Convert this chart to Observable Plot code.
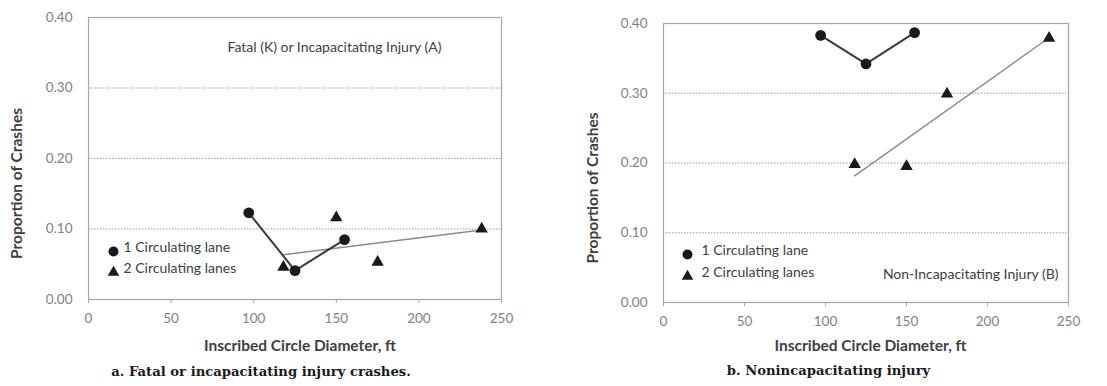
<!DOCTYPE html>
<html><head><meta charset="utf-8">
<script src="https://cdn.jsdelivr.net/npm/d3@7"></script>
<script src="https://cdn.jsdelivr.net/npm/@observablehq/plot@0.6"></script>
<style>
html,body{margin:0;padding:0;background:#fff;}
#wrap{position:relative;width:1107px;height:386px;overflow:hidden;}
#wrap > div, #wrap > svg{position:absolute;top:0;}
</style></head>
<body><div id="wrap"></div>
<script>
// ---- data ----
const diamOneLane = [97, 125, 155];
const diamTwoLanes = [118, 150, 175, 238];
const kaOneLane = [0.123, 0.041, 0.085];
const kaTwoLanes = [0.046, 0.116, 0.053, 0.100];
const bOneLane = [0.383, 0.342, 0.387];
const bTwoLanes = [0.198, 0.195, 0.299, 0.379];
const xTicks = [0, 50, 100, 150, 200, 250];
const yTicks = [0, 0.1, 0.2, 0.3, 0.4];
const gridTicks = [0.1, 0.2, 0.3];
const legendLabels = ["1 Circulating lane", "2 Circulating lanes"];
const panelNotes = ["Fatal (K) or Incapacitating Injury (A)", "Non-Incapacitating Injury (B)"];
const captions = ["a. Fatal or incapacitating injury crashes.", "b. Nonincapacitating injury"];
const xTitle = "Inscribed Circle Diameter, ft";
const yTitle = "Proportion of Crashes";

const sans = "Lato, 'Open Sans', sans-serif";
const tickColor = "#7f7f7f";
const darkText = "#404040";

function panel(opts) {
  const one = diamOneLane.map((d, i) => ({x: d, y: opts.one[i]}));
  const two = diamTwoLanes.map((d, i) => ({x: d, y: opts.two[i]}));
  const m = opts.m;
  return Plot.plot({
    width: opts.width, height: 386,
    marginLeft: m.l, marginRight: m.r, marginTop: m.t, marginBottom: m.b,
    style: {fontFamily: sans, background: "transparent", overflow: "visible"},
    x: {domain: [0, 250]},
    y: {domain: [0, 0.4]},
    marks: [
      Plot.ruleY(gridTicks, {stroke: "#9a9a9a", strokeDasharray: "1.5,1.5", strokeWidth: 1}),
      Plot.frame({stroke: "#a6a6a6", strokeWidth: 1.2}),
      Plot.axisX({ticks: xTicks, tickSize: 4, tickPadding: 10, tickFormat: d3.format("d"), label: null,
        color: tickColor, fontSize: 13.5, stroke: "#a6a6a6"}),
      Plot.axisY({ticks: yTicks, tickSize: 0, tickPadding: 16, tickFormat: d3.format(".2f"), label: null,
        color: tickColor, fontSize: 13.5}),
      Plot.linearRegressionY(two, {x: "x", y: "y", ci: 0, stroke: "#8c8c8c", strokeWidth: 1.4}),
      Plot.line(one, {x: "x", y: "y", stroke: "#3a3a3a", strokeWidth: 2}),
      Plot.dot(one, {x: "x", y: "y", r: 5.4, fill: "#1a1a1a", symbol: "circle"}),
      Plot.dot(two, {x: "x", y: "y", r: 4.6, fill: "#1a1a1a", symbol: "triangle"}),
      // legend
      Plot.dot([legendLabels[0]], {frameAnchor: "bottom-left", dx: opts.leg.dx, dy: opts.leg.dy1, r: 5, fill: "#1a1a1a", symbol: "circle"}),
      Plot.dot([legendLabels[1]], {frameAnchor: "bottom-left", dx: opts.leg.dx, dy: opts.leg.dy2, r: 4.3, fill: "#1a1a1a", symbol: "triangle"}),
      Plot.text([legendLabels[0]], {frameAnchor: "bottom-left", dx: opts.leg.tx, dy: opts.leg.dy1, text: d => d, textAnchor: "start", fontSize: 14, fill: darkText}),
      Plot.text([legendLabels[1]], {frameAnchor: "bottom-left", dx: opts.leg.tx, dy: opts.leg.dy2, text: d => d, textAnchor: "start", fontSize: 14, fill: darkText}),
      // panel note
      Plot.text([opts.note], {frameAnchor: opts.noteAnchor, dx: opts.noteDx, dy: opts.noteDy, text: d => d,
        textAnchor: opts.noteTA, fontSize: 14, fill: darkText}),
      // axis titles
      Plot.text([xTitle], {frameAnchor: "bottom", dx: opts.xt.dx, dy: opts.xt.dy, text: d => d, textAnchor: "middle", fontSize: 15.5, fontWeight: "bold", fill: darkText}),
      Plot.text([yTitle], {frameAnchor: "left", dx: opts.yt.dx, dy: opts.yt.dy, rotate: -90, text: d => d, textAnchor: "middle", fontSize: 15.5, fontWeight: "bold", fill: darkText}),
      // caption
      Plot.text([opts.caption], {frameAnchor: "bottom", dx: opts.cap.dx, dy: opts.cap.dy, text: d => d, textAnchor: "middle", fontSize: 13.2,
        fontWeight: "bold", fill: "#1a1a1a", fontFamily: "'DejaVu Serif', serif"})
    ]
  });
}

const left = panel({
  width: 553, m: {l: 88, r: 52, t: 17, b: 87},
  one: kaOneLane, two: kaTwoLanes,
  leg: {dx: 25, tx: 35, dy1: -48, dy2: -27},
  note: panelNotes[0], noteAnchor: "top-left", noteDx: 139, noteDy: 25, noteTA: "start",
  xt: {dx: 5, dy: 51}, yt: {dx: -71, dy: 25},
  caption: captions[0], cap: {dx: -34, dy: 76}
});
const right = panel({
  width: 554, m: {l: 110, r: 39, t: 23, b: 84},
  one: bOneLane, two: bTwoLanes,
  leg: {dx: 24, tx: 38, dy1: -48, dy2: -26},
  note: panelNotes[1], noteAnchor: "bottom-right", noteDx: -10, noteDy: -24, noteTA: "end",
  xt: {dx: 4.5, dy: 48}, yt: {dx: -70, dy: 25},
  caption: captions[1], cap: {dx: -37.5, dy: 72}
});
left.style.left = "0px";
right.style.left = "553px";
document.getElementById("wrap").append(left, right);
</script></body></html>
